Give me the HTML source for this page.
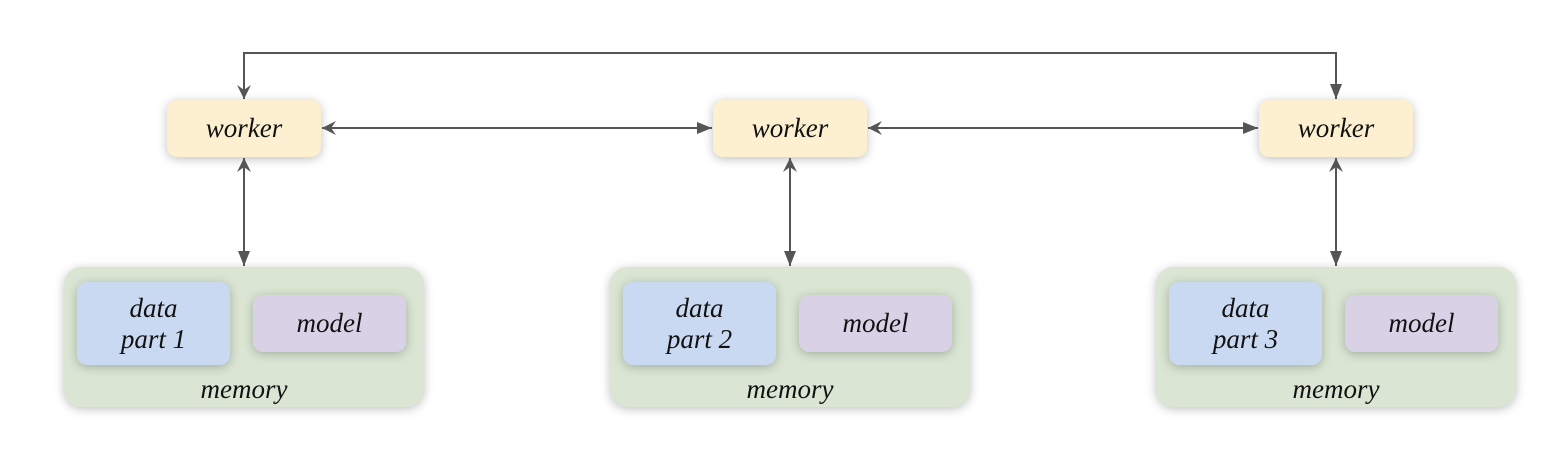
<!DOCTYPE html>
<html><head><style>
body{margin:0;width:1564px;height:458px;background:#fff;position:relative;overflow:hidden;font-family:"Liberation Serif",serif;font-style:italic;}
.b{position:absolute;border-radius:10px;box-shadow:0 2px 10px rgba(0,0,0,0.25);display:flex;align-items:center;justify-content:center;text-align:center;color:#111;font-size:27px;line-height:31px;}
.w{background:#fdf0d0;width:154px;height:57px;top:100px;}
.m{background:#dae6d3;width:360px;height:140px;top:267px;border-radius:18px;align-items:flex-end;}
.m span{margin-bottom:2px;}
.d{background:#cad9f2;width:153px;height:83px;top:282px;}
.mo{background:#d9d2e6;width:153px;height:57px;top:295px;}
svg{position:absolute;left:0;top:0;}
</style></head><body>
<div class="b m" style="left:64px"><span>memory</span></div>
<div class="b m" style="left:610px"><span>memory</span></div>
<div class="b m" style="left:1156px"><span>memory</span></div>
<div class="b d" style="left:77px">data<br>part 1</div>
<div class="b d" style="left:623px">data<br>part 2</div>
<div class="b d" style="left:1169px">data<br>part 3</div>
<div class="b mo" style="left:253px">model</div>
<div class="b mo" style="left:799px">model</div>
<div class="b mo" style="left:1345px">model</div>
<div class="b w" style="left:167px">worker</div>
<div class="b w" style="left:713px">worker</div>
<div class="b w" style="left:1259px">worker</div>
<svg width="1564" height="458">
<defs><marker id="a" viewBox="0 0 10 10" refX="10" refY="5" markerWidth="14" markerHeight="14" markerUnits="userSpaceOnUse" orient="auto-start-reverse"><path d="M0,0L10,5L0,10L3.5,5z" fill="#555"/></marker>
<marker id="f" viewBox="0 0 10 10" refX="10" refY="5" markerWidth="15" markerHeight="15" markerUnits="userSpaceOnUse" orient="auto-start-reverse"><path d="M0,1L10,5L0,9z" fill="#555"/></marker></defs>
<g stroke="#555" stroke-width="2" fill="none">
<path d="M244,99V53H1336V99" marker-start="url(#a)" marker-end="url(#f)"/>
<path d="M322,128H712" marker-start="url(#a)" marker-end="url(#f)"/>
<path d="M868,128H1258" marker-start="url(#a)" marker-end="url(#f)"/>
<path d="M244,158V266" marker-start="url(#a)" marker-end="url(#f)"/>
<path d="M790,158V266" marker-start="url(#a)" marker-end="url(#f)"/>
<path d="M1336,158V266" marker-start="url(#a)" marker-end="url(#f)"/>
</g></svg>
</body></html>
